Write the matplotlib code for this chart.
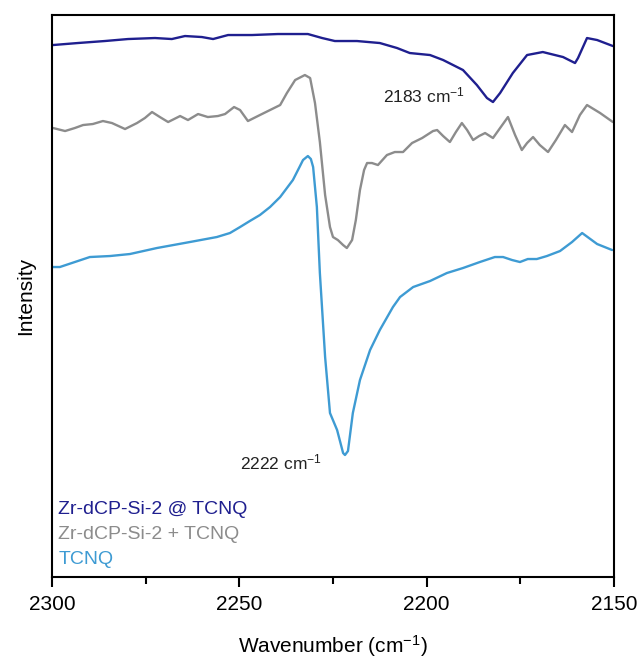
import matplotlib
matplotlib.use("Agg")
import matplotlib.pyplot as plt
from matplotlib.ticker import MultipleLocator

plt.rcParams['font.family'] = ['Liberation Sans', 'DejaVu Sans']
plt.rcParams['mathtext.fontset'] = 'custom'
plt.rcParams['mathtext.rm'] = 'Liberation Sans'
plt.rcParams['mathtext.it'] = 'Liberation Sans'

# Zr-dCP-Si-2 @ TCNQ (dark blue)
wn_at = [2299.7, 2293.1, 2285.9, 2279.7, 2272.5, 2268.0, 2264.5, 2260.0, 2257.0, 2253.0,
         2246.6, 2239.7, 2231.7, 2227.9, 2224.5, 2218.6, 2212.5, 2207.9, 2204.5, 2199.1,
         2195.6, 2190.3, 2186.6, 2183.9, 2182.3, 2180.4, 2177.0, 2173.2, 2169.0, 2163.6,
         2160.4, 2159.6, 2157.2, 2154.5, 2150.3]
int_at = [532, 534, 536, 538, 539, 538, 541, 540, 538, 542,
          542, 543, 543, 539, 536, 536, 534, 529, 524, 522,
          517, 507, 492, 479, 475, 484, 504, 522, 525, 520,
          514, 519, 539, 537, 531]

# Zr-dCP-Si-2 + TCNQ (gray)
wn_plus = [2299.7, 2296.5, 2293.9, 2291.7, 2289.1, 2286.4, 2284.0, 2280.5, 2277.3, 2275.2,
           2273.3, 2271.2, 2269.0, 2265.8, 2263.7, 2261.0, 2258.4, 2255.7, 2253.8, 2251.4,
           2249.8, 2247.7, 2244.5, 2241.8, 2239.1, 2237.3, 2235.1, 2232.5, 2231.1, 2229.8,
           2228.5, 2227.1, 2225.8, 2225.0, 2223.7, 2222.3, 2221.3, 2219.9, 2218.9, 2217.8,
           2216.7, 2215.9, 2214.6, 2213.0, 2210.6, 2208.5, 2206.3, 2203.9, 2201.2, 2198.3,
           2197.2, 2195.6, 2193.8, 2192.2, 2190.6, 2189.2, 2187.6, 2186.0, 2184.4, 2182.3,
           2180.4, 2178.3, 2176.4, 2174.6, 2173.2, 2171.6, 2169.8, 2167.6, 2165.5, 2163.1,
           2161.2, 2159.1, 2157.2, 2153.7, 2150.3]
int_plus = [449, 446, 449, 452, 453, 456, 454, 448, 454, 459,
            465, 460, 455, 461, 457, 463, 460, 461, 463, 470,
            467, 456, 462, 467, 472, 484, 497, 502, 499, 474,
            435, 382, 350, 340, 337, 332, 329, 337, 357, 387,
            407, 414, 414, 412, 422, 425, 425, 434, 439, 446,
            447, 441, 435, 445, 454, 447, 437, 441, 444, 439,
            449, 460, 442, 427, 434, 440, 432, 425, 437, 452,
            445, 462, 472, 464, 455]

# TCNQ (light blue)
wn_tcnq = [2300.0, 2297.9, 2293.9, 2289.9, 2284.5, 2279.2, 2272.0, 2263.2, 2256.0, 2252.5,
           2249.8, 2247.2, 2244.5, 2241.8, 2239.1, 2235.7, 2233.8, 2233.0, 2231.7, 2230.9,
           2230.3, 2229.3, 2228.5, 2227.1, 2225.8, 2223.9, 2222.3, 2221.8, 2221.0, 2219.7,
           2217.8, 2215.1, 2212.5, 2209.0, 2207.1, 2203.6, 2199.1, 2194.6, 2190.3, 2185.8,
           2181.8, 2179.6, 2177.2, 2175.1, 2173.0, 2170.6, 2167.9, 2164.4, 2161.2, 2158.5,
           2154.5, 2150.5]
int_tcnq = [310, 310, 315, 320, 321, 323, 329, 335, 340, 344,
            350, 356, 362, 370, 380, 397, 411, 417, 421, 418,
            410, 370, 304, 220, 164, 147, 124, 122, 126, 164,
            197, 227, 247, 270, 280, 290, 296, 304, 309, 315,
            320, 320, 317, 315, 318, 318, 321, 326, 335, 344,
            333, 327]

labels = ["Zr-dCP-Si-2 @ TCNQ", "Zr-dCP-Si-2 + TCNQ", "TCNQ"]
colors = ["#1f1f8f", "#8c8c8c", "#3e9bd3"]

fig = plt.figure(figsize=(6.44, 6.65), dpi=100)
ax = fig.add_axes([0.0807, 0.1323, 0.8727, 0.8451])

for wn, it, c in zip([wn_at, wn_plus, wn_tcnq], [int_at, int_plus, int_tcnq], colors):
    ax.plot(wn, it, color=c, lw=1.7, solid_joinstyle='round', solid_capstyle='round')

ax.set_xlim(2300, 2150)
ax.set_ylim(0, 562)
ax.set_yticks([])
ax.xaxis.set_major_locator(MultipleLocator(50))
ax.xaxis.set_minor_locator(MultipleLocator(25))
ax.tick_params(axis='x', which='major', direction='out', length=7, width=1.5, labelsize=15, pad=6)
ax.tick_params(axis='x', which='minor', direction='out', length=5, width=1.5)
for s in ax.spines.values():
    s.set_linewidth(1.5)

ax.set_xlabel("Wavenumber (cm$^{-1}$)", fontsize=15, labelpad=14)
ax.set_ylabel("Intensity", fontsize=15, labelpad=12)

ax.text(2189.8, 482, "2183 cm$^{-1}$", fontsize=12.5, ha='right', va='center', color='#222222')
ax.text(2227.9, 115, "2222 cm$^{-1}$", fontsize=12.5, ha='right', va='center', color='#222222')

for i, (lab, c) in enumerate(zip(labels, colors)):
    ax.text(0.011, 0.121 - i * 0.045, lab, transform=ax.transAxes, color=c,
            fontsize=14, ha='left', va='center')

fig.savefig("out.png", dpi=100)
